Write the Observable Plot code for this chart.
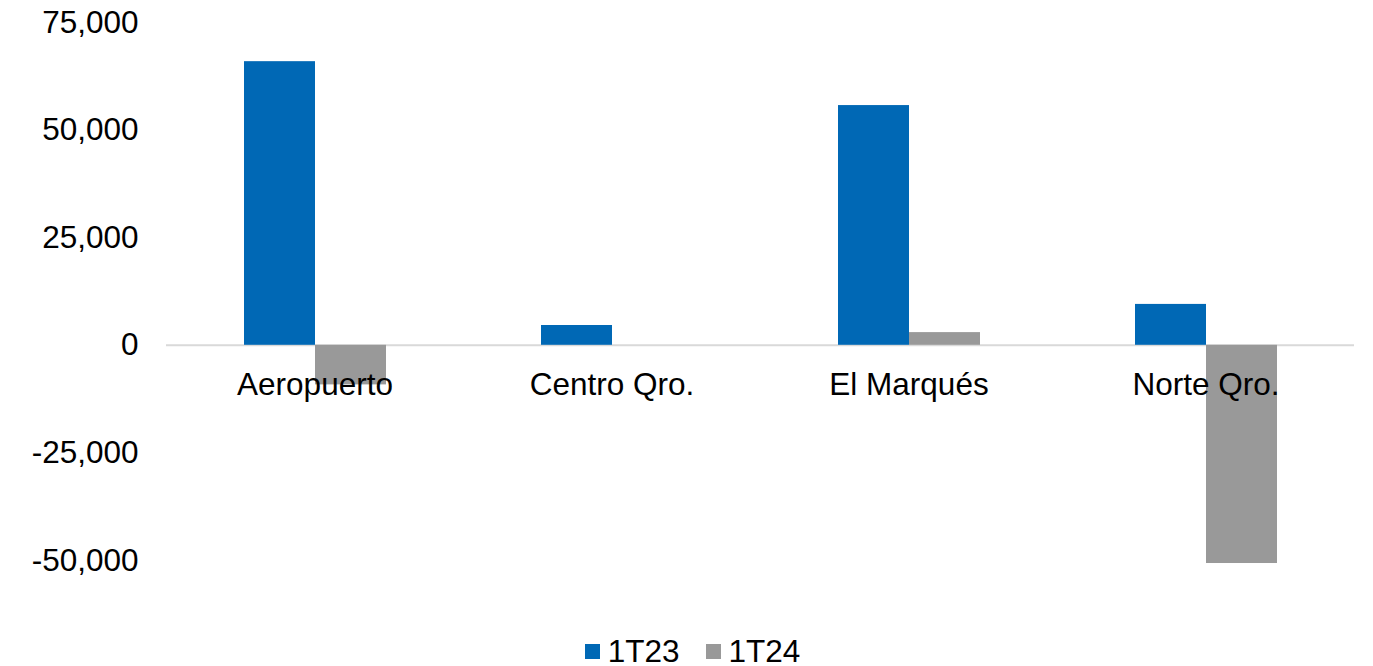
<!DOCTYPE html>
<html>
<head>
<meta charset="utf-8">
<script src="https://cdn.jsdelivr.net/npm/d3@7"></script>
<script src="https://cdn.jsdelivr.net/npm/@observablehq/plot@0.6"></script>
<style>
  html, body { margin: 0; padding: 0; background: #fff; }
  body { width: 1373px; height: 666px; overflow: hidden; font-family: "Liberation Sans", Arial, sans-serif; }
  #legend { display: flex; justify-content: center; align-items: center; gap: 26px; height: 46px; margin-top: 8px; font-size: 31.5px; color: #000; padding-left: 12px; }
  #legend .item { display: flex; align-items: center; gap: 8px; }
  #legend .sw { width: 15px; height: 15px; display: inline-block; }
</style>
</head>
<body>
<div id="chart"></div>
<div id="legend"></div>
<script>
const categories = ["Aeropuerto", "Centro Qro.", "El Marqués", "Norte Qro."];
const seriesNames = ["1T23", "1T24"];
const values1T23 = [65900, 4600, 55700, 9500];
const values1T24 = [-9200, 0, 2950, -50700];
const colors = ["#0068B5", "#999999"];
const yTicks = [-50000, -25000, 0, 25000, 50000, 75000];

const data = [];
categories.forEach((c, i) => {
  data.push({category: c, series: seriesNames[0], value: values1T23[i]});
  data.push({category: c, series: seriesNames[1], value: values1T24[i]});
});

const fmt = d => d.toLocaleString("en-US");

const plot = Plot.plot({
  width: 1373,
  height: 620,
  marginLeft: 165,
  marginRight: 18,
  marginTop: 22,
  marginBottom: 60,
  style: {fontSize: "31.5px", fontFamily: "Liberation Sans, Arial, sans-serif", color: "#000", background: "#fff"},
  fx: {domain: categories, padding: 0, axis: null},
  x: {domain: seriesNames, paddingInner: 0, paddingOuter: 1.08, axis: null},
  y: {domain: [-50000, 75000], ticks: yTicks, tickFormat: fmt, tickSize: 0, tickPadding: 28, label: null},
  color: {domain: seriesNames, range: colors},
  marks: [
    Plot.ruleY([0], {stroke: "#D9D9D9", strokeWidth: 2}),
    Plot.barY(data, {fx: "category", x: "series", y: "value", fill: "series"}),
    Plot.text(categories, {fx: d => d, y: 0, text: d => d, dy: 40, fill: "#000"})
  ]
});
document.getElementById("chart").appendChild(plot);

const legend = document.getElementById("legend");
seriesNames.forEach((s, i) => {
  const item = document.createElement("span");
  item.className = "item";
  const sw = document.createElement("span");
  sw.className = "sw";
  sw.style.background = colors[i];
  const t = document.createElement("span");
  t.textContent = s;
  item.appendChild(sw);
  item.appendChild(t);
  legend.appendChild(item);
});
</script>
</body>
</html>
